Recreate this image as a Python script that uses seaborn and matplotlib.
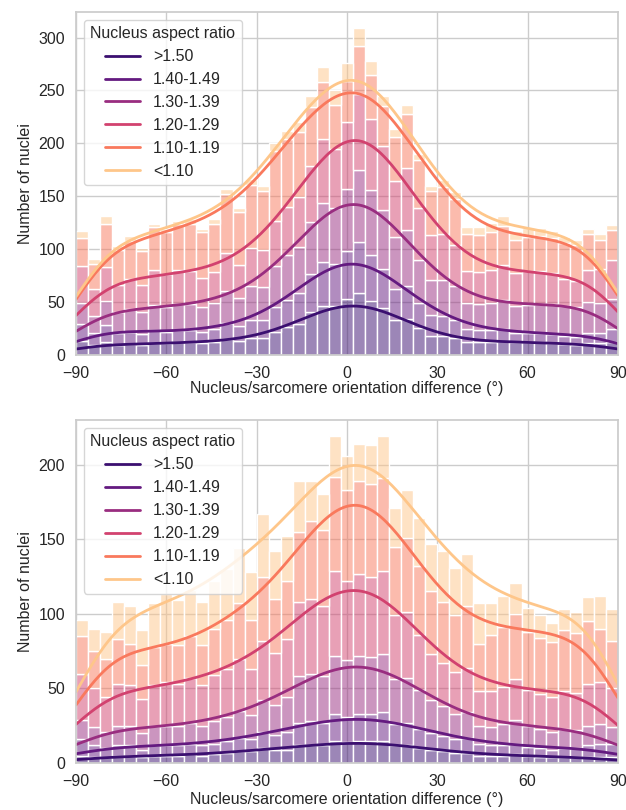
import numpy as np
import pandas as pd
import seaborn as sns
import matplotlib
matplotlib.use("Agg")
import matplotlib.pyplot as plt
from matplotlib.lines import Line2D

# ---------------- data ----------------
# bin centres (degrees), 4-degree bins from -90 to 90
ANGLES = list(range(-88, 89, 4))

RATIO_LEVELS = [">1.50", "1.40-1.49", "1.30-1.39", "1.20-1.29", "1.10-1.19", "<1.10"]

# Top panel: counts per bin for each aspect-ratio class
top_gt150 = [13, 9, 12, 9, 10, 9, 11, 11, 12, 12, 11, 12, 15, 13, 16, 16, 22, 26, 29, 40,
             46, 46, 53, 58, 51, 44, 33, 34, 25, 18, 18, 16, 12, 12, 12, 13, 12, 12, 12, 11,
             10, 9, 11, 11, 12]
top_140_149 = [16, 12, 16, 12, 12, 11, 12, 11, 11, 11, 11, 12, 15, 14, 17, 17, 23, 26, 29, 36,
               42, 40, 45, 49, 43, 37, 29, 31, 24, 20, 19, 17, 12, 11, 11, 11, 9, 9, 9, 9,
               8, 8, 10, 10, 12]
top_130_139 = [20, 16, 23, 19, 21, 20, 24, 23, 25, 25, 23, 25, 30, 27, 32, 31, 39, 42, 44, 50,
               56, 53, 59, 68, 62, 56, 49, 53, 41, 33, 34, 32, 25, 25, 26, 28, 25, 26, 27, 28,
               28, 28, 29, 28, 29]
top_120_129 = [35, 25, 32, 26, 29, 26, 33, 31, 32, 31, 28, 29, 36, 31, 36, 35, 43, 46, 47, 53,
               60, 56, 63, 72, 67, 60, 53, 59, 49, 42, 43, 39, 30, 30, 31, 33, 31, 32, 31, 29,
               26, 25, 30, 32, 37]
top_110_119 = [26, 24, 41, 33, 36, 32, 41, 40, 44, 45, 43, 46, 56, 50, 60, 56, 66, 64, 62, 55,
               54, 41, 39, 45, 42, 38, 42, 51, 45, 42, 45, 43, 35, 35, 36, 37, 32, 32, 33, 33,
               34, 34, 34, 28, 28]
top_lt110 = [7, 5, 7, 4, 4, 3, 3, 3, 3, 4, 3, 4, 5, 4, 5, 5, 7, 8, 9, 11,
             14, 14, 17, 17, 13, 10, 8, 8, 6, 5, 6, 7, 7, 8, 9, 9, 8, 9, 8, 7,
             5, 5, 5, 5, 5]

# Bottom panel
bot_gt150 = [5, 4, 4, 5, 5, 4, 5, 5, 5, 6, 5, 6, 7, 8, 8, 10, 9, 9, 12, 12,
             12, 15, 14, 15, 15, 15, 12, 12, 10, 9, 8, 7, 7, 5, 5, 5, 6, 5, 4, 4,
             4, 4, 4, 4, 4]
bot_140_149 = [11, 8, 6, 7, 7, 5, 7, 7, 7, 7, 7, 7, 8, 9, 8, 11, 10, 12, 15, 16,
               15, 18, 17, 18, 18, 19, 14, 15, 13, 11, 10, 9, 10, 8, 7, 7, 7, 6, 6, 5,
               6, 6, 8, 9, 9]
bot_130_139 = [13, 12, 11, 13, 13, 11, 13, 13, 13, 14, 13, 15, 16, 18, 16, 21, 20, 23, 31, 32,
               31, 39, 38, 39, 38, 39, 30, 30, 26, 22, 20, 17, 17, 12, 12, 14, 16, 14, 13, 12,
               13, 12, 13, 13, 11]
bot_120_129 = [31, 26, 23, 28, 27, 23, 27, 29, 28, 30, 27, 31, 32, 35, 31, 40, 35, 39, 50, 50,
               47, 57, 53, 55, 54, 56, 43, 44, 37, 31, 29, 28, 30, 23, 24, 25, 27, 24, 23, 23,
               25, 25, 28, 28, 26]
bot_110_119 = [25, 25, 26, 30, 28, 23, 26, 26, 26, 28, 27, 31, 33, 37, 33, 43, 36, 39, 47, 52,
               51, 63, 61, 62, 62, 62, 46, 50, 46, 42, 41, 38, 41, 32, 38, 40, 44, 39, 38, 37,
               41, 40, 42, 36, 32]
bot_lt110 = [11, 15, 18, 25, 25, 23, 29, 33, 30, 31, 29, 32, 34, 37, 32, 42, 32, 30, 34, 27,
             24, 27, 23, 25, 26, 28, 26, 32, 32, 32, 34, 32, 35, 27, 21, 21, 21, 16, 15, 13,
             14, 14, 16, 22, 21]

TOP = [top_gt150, top_140_149, top_130_139, top_120_129, top_110_119, top_lt110]
BOTTOM = [bot_gt150, bot_140_149, bot_130_139, bot_120_129, bot_110_119, bot_lt110]

X_TICKS = [-90, -60, -30, 0, 30, 60, 90]
X_LABEL = "Nucleus/sarcomere orientation difference (°)"
Y_LABEL = "Number of nuclei"
LEGEND_TITLE = "Nucleus aspect ratio"


def to_observations(series_list):
    frames = []
    for level, counts in zip(RATIO_LEVELS, series_list):
        obs = np.repeat(np.array(ANGLES, dtype=float), counts)
        frames.append(pd.DataFrame({"angle": obs, "ratio": level}))
    return pd.concat(frames, ignore_index=True)


# ---------------- style ----------------
sns.set_theme(style="whitegrid")
plt.rcParams["font.family"] = ["Liberation Sans", "DejaVu Sans"]
FS = 11.5

cmap = plt.get_cmap("magma")
colors = [cmap(v) for v in (0.2, 0.3, 0.43, 0.57, 0.72, 0.88)]
palette = dict(zip(RATIO_LEVELS, colors))
stack_order = RATIO_LEVELS[::-1]  # last level ends up at the bottom of the stack

fig = plt.figure(figsize=(6.26, 8.10), dpi=100)
ax_top = fig.add_axes([0.1214, 0.562, 0.8656, 0.4235])
ax_bot = fig.add_axes([0.1214, 0.058, 0.8656, 0.4235])

for ax, series, lpad in ((ax_top, TOP, 0), (ax_bot, BOTTOM, 2)):
    df = to_observations(series)
    sns.histplot(
        data=df, x="angle", hue="ratio", hue_order=stack_order,
        multiple="stack", binwidth=4, binrange=(-90, 90),
        palette=palette, alpha=0.5, edgecolor="white", linewidth=1.0,
        kde=True, kde_kws={"cut": 3, "clip": (-90, 90)},
        line_kws={"linewidth": 2.0},
        legend=False, ax=ax,
    )
    ax.set_xlim(-90, 90)
    ax.set_xticks(X_TICKS)
    ax.set_xlabel(X_LABEL, fontsize=FS, labelpad=lpad)
    ax.set_ylabel(Y_LABEL, fontsize=FS)
    ax.tick_params(labelsize=FS, pad=2)
    handles = [Line2D([], [], color=palette[l], lw=2.0) for l in RATIO_LEVELS]
    ax.legend(handles, RATIO_LEVELS, title=LEGEND_TITLE, loc="upper left",
              fontsize=FS, title_fontsize=FS, handlelength=2.2,
              labelspacing=0.5, frameon=True)

fig.savefig("out.png", dpi=100)
